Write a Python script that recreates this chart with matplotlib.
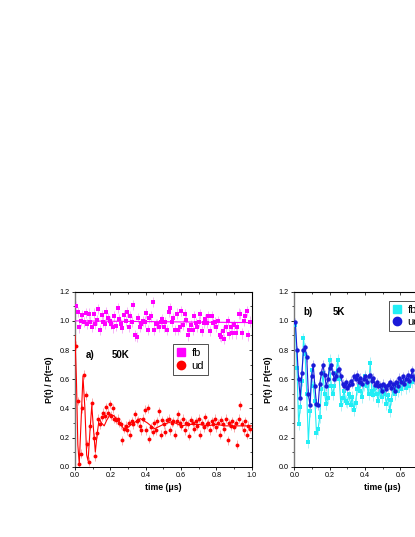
import numpy as np
import matplotlib
matplotlib.use("Agg")
import matplotlib.pyplot as plt
from matplotlib.lines import Line2D
from matplotlib.ticker import MultipleLocator

plt.rcParams['font.family'] = ['Liberation Sans', 'DejaVu Sans']

# ---------------- data: panel a) 50K ----------------
fb_a = [1.10, 1.06, 0.955, 1.00, 1.04, 0.99, 1.055, 0.98, 1.05, 0.995,
        0.96, 1.05, 0.98, 1.006, 1.08, 0.94, 1.04, 0.995, 0.98, 1.06,
        1.02, 1.00, 0.98, 0.955, 1.03, 0.965, 1.09, 1.01, 0.98, 0.95,
        1.04, 1.00, 1.06, 0.96, 1.03, 0.995, 1.11, 0.90, 0.89, 1.02,
        0.96, 0.98, 1.00, 0.995, 1.055, 0.94, 1.02, 1.03, 1.13, 0.94,
        0.98, 0.98, 0.96, 0.995, 1.01, 0.96, 0.99, 0.94, 1.06, 1.085,
        0.995, 1.02, 0.94, 1.05, 0.94, 0.96, 1.07, 0.97, 1.045, 1.006,
        0.90, 0.94, 0.97, 0.94, 1.03, 0.985, 0.96, 0.995, 1.045, 0.93,
        0.985, 1.01, 0.985, 1.03, 0.93, 1.03, 0.985, 0.99, 0.96, 1.00,
        0.90, 0.89, 0.93, 0.875, 0.96, 1.00, 0.91, 0.96, 0.914, 0.97,
        0.914, 0.955, 1.05, 1.045, 0.914, 1.00, 1.03, 1.07, 0.90, 0.995]
ud_a = [0.83, 0.45, 0.02, 0.09, 0.40, 0.63, 0.49, 0.155, 0.035, 0.28,
        0.44, 0.20, 0.07, 0.23, 0.33, 0.29, 0.34, 0.37, 0.35, 0.41,
        0.37, 0.43, 0.35, 0.40, 0.33, 0.32, 0.33, 0.30, 0.29, 0.18,
        0.26, 0.28, 0.25, 0.30, 0.22, 0.31, 0.29, 0.36, 0.31, 0.32,
        0.28, 0.25, 0.33, 0.39, 0.25, 0.40, 0.19, 0.27, 0.24, 0.30,
        0.25, 0.31, 0.38, 0.22, 0.32, 0.29, 0.24, 0.32, 0.33, 0.25,
        0.30, 0.31, 0.22, 0.31, 0.36, 0.30, 0.28, 0.33, 0.25, 0.30,
        0.29, 0.21, 0.32, 0.30, 0.26, 0.31, 0.28, 0.33, 0.22, 0.30,
        0.27, 0.34, 0.29, 0.30, 0.25, 0.31, 0.29, 0.33, 0.27, 0.30,
        0.22, 0.32, 0.29, 0.26, 0.33, 0.18, 0.30, 0.28, 0.31, 0.27,
        0.30, 0.15, 0.33, 0.42, 0.29, 0.25, 0.31, 0.22, 0.28, 0.26]
t_a = np.linspace(0.006, 0.99, len(ud_a))
err_fb_a = 0.035
err_ud_a = 0.03

fit_fb_t = [0.0, 1.0]
fit_fb_v = [1.0, 0.988]
fit_ud_t = [0.0, 0.008, 0.016, 0.024, 0.034, 0.045, 0.056, 0.066, 0.074, 0.085,
            0.095, 0.105, 0.115, 0.125, 0.137, 0.15, 0.165, 0.18, 0.2, 0.22,
            0.25, 0.28, 0.32, 0.37, 0.41, 0.45, 0.5, 0.55, 0.6, 0.65,
            0.7, 0.75, 0.8, 0.85, 0.9, 0.95, 1.0]
fit_ud_v = [0.90, 0.60, 0.15, 0.02, 0.30, 0.62, 0.40, 0.08, 0.04, 0.25,
            0.42, 0.25, 0.10, 0.22, 0.33, 0.30, 0.28, 0.32, 0.36, 0.35,
            0.31, 0.25, 0.29, 0.33, 0.30, 0.26, 0.29, 0.31, 0.28, 0.29,
            0.29, 0.28, 0.29, 0.28, 0.28, 0.28, 0.28]

# ---------------- data: panel b) 5K ----------------
ud_b = [0.99, 0.80, 0.60, 0.47, 0.64, 0.80, 0.82, 0.75, 0.50, 0.42,
        0.62, 0.70, 0.55, 0.43, 0.42, 0.57, 0.64, 0.70, 0.63, 0.55,
        0.60, 0.68, 0.70, 0.64, 0.60, 0.62, 0.66, 0.67, 0.62, 0.57,
        0.55, 0.58, 0.54, 0.56, 0.59, 0.57, 0.62, 0.60, 0.63, 0.58,
        0.61, 0.57, 0.60, 0.62, 0.58, 0.62, 0.63, 0.59, 0.61, 0.56,
        0.58, 0.55, 0.56, 0.52, 0.57, 0.55, 0.53, 0.56, 0.58, 0.54,
        0.57, 0.52, 0.58, 0.55, 0.61, 0.58, 0.62, 0.57, 0.60, 0.63,
        0.59, 0.62, 0.66, 0.60, 0.63]
fb_b = [0.97, 0.68, 0.29, 0.41, 0.59, 0.88, 0.77, 0.50, 0.17, 0.38,
        0.66, 0.55, 0.45, 0.23, 0.26, 0.34, 0.53, 0.64, 0.50, 0.43,
        0.47, 0.73, 0.55, 0.50, 0.55, 0.64, 0.73, 0.60, 0.42, 0.47,
        0.52, 0.45, 0.44, 0.50, 0.42, 0.48, 0.39, 0.44, 0.53, 0.55,
        0.52, 0.48, 0.56, 0.62, 0.55, 0.50, 0.71, 0.52, 0.49, 0.54,
        0.50, 0.45, 0.52, 0.48, 0.55, 0.50, 0.43, 0.49, 0.38, 0.46,
        0.53, 0.50, 0.55, 0.52, 0.57, 0.53, 0.56, 0.58, 0.54, 0.57,
        0.55, 0.60, 0.58, 0.61, 0.59]
t_b = np.linspace(0.006, 0.687, len(ud_b))
err_fb_b = 0.04
err_ud_b = 0.03

xticks = [0.0, 0.2, 0.4, 0.6, 0.8, 1.0]
yticks = [0.0, 0.2, 0.4, 0.6, 0.8, 1.0, 1.2]

# ---------------- figure ----------------
fig = plt.figure(figsize=(4.15, 5.37), dpi=100)
axw = 176.7 / 415
axh = 175 / 537
ax1 = fig.add_axes([75 / 415, (537 - 466.7) / 537, axw, axh])
ax2 = fig.add_axes([294.3 / 415, (537 - 466.7) / 537, axw, axh])


def style_axes(ax):
    ax.set_xlim(0, 1.0)
    ax.set_ylim(0, 1.2)
    ax.set_xticks(xticks)
    ax.set_yticks(yticks)
    ax.set_xticklabels([f"{v:.1f}" for v in xticks])
    ax.set_yticklabels([f"{v:.1f}" for v in yticks])
    ax.xaxis.set_minor_locator(MultipleLocator(0.1))
    ax.yaxis.set_minor_locator(MultipleLocator(0.1))
    ax.tick_params(which='major', direction='out', length=2.5, width=0.6,
                   labelsize=5.2, pad=1.5)
    ax.tick_params(which='minor', direction='out', length=1.5, width=0.5)
    for s in ax.spines.values():
        s.set_linewidth(0.7)
    ax.spines['left'].set_color('#777777')
    ax.spines['left'].set_linewidth(1.0)
    top = ax.secondary_xaxis('top')
    top.set_xticks(xticks)
    top.xaxis.set_minor_locator(MultipleLocator(0.1))
    top.tick_params(which='both', direction='in', labeltop=False, width=0.5)
    top.tick_params(which='major', length=2.5)
    top.tick_params(which='minor', length=1.5)
    right = ax.secondary_yaxis('right')
    right.set_yticks(yticks)
    right.yaxis.set_minor_locator(MultipleLocator(0.1))
    right.tick_params(which='both', direction='in', labelright=False, width=0.5)
    right.tick_params(which='major', length=2.5)
    right.tick_params(which='minor', length=1.5)
    ax.set_xlabel('time (\u03bcs)', fontsize=6.3, fontweight='bold', labelpad=3)
    ax.set_ylabel('P(t) / P(t=0)', fontsize=6.3, fontweight='bold', labelpad=4)


# panel a)
ax1.errorbar(t_a, fb_a, yerr=err_fb_a, fmt='s', color='#FF00FF', ms=2.3, mew=0,
             ecolor='#F5A8F5', elinewidth=0.6, capsize=1.0, capthick=0.5, zorder=3)
ax1.plot(fit_fb_t, fit_fb_v, color='#FF00FF', lw=0.8, zorder=4)
ax1.errorbar(t_a, ud_a, yerr=err_ud_a, fmt='o', color='#FF0000', ms=2.8, mew=0,
             ecolor='#F5A0A0', elinewidth=0.6, capsize=1.0, capthick=0.5, zorder=3)
ax1.plot(fit_ud_t, fit_ud_v, color='#FF0000', lw=0.8, zorder=4)
style_axes(ax1)
ax1.text(0.062, 0.765, 'a)', fontsize=7, fontweight='bold', va='center')
ax1.text(0.21, 0.765, '50K', fontsize=7, fontweight='bold', va='center')
h1 = [Line2D([], [], marker='s', color='#FF00FF', ls='none', ms=5.5),
      Line2D([], [], marker='o', color='#FF0000', ls='none', ms=6)]
leg1 = ax1.legend(h1, ['fb', 'ud'], loc='upper left', bbox_to_anchor=(0.555, 0.70),
                  frameon=True, fancybox=False, fontsize=8, handlelength=0.8,
                  handletextpad=0.5, borderpad=0.35, labelspacing=0.25,
                  borderaxespad=0)
leg1.get_frame().set_edgecolor('black')
leg1.get_frame().set_linewidth(0.6)

# panel b)
ax2.errorbar(t_b, fb_b, yerr=err_fb_b, fmt='s-', color='#22EEF5', ms=2.6, mew=0, lw=0.8,
             ecolor='#A0EEF5', elinewidth=0.6, capsize=1.0, capthick=0.5, zorder=3)
ax2.errorbar(t_b, ud_b, yerr=err_ud_b, fmt='o-', color='#1A1AD8', ms=3.2, mew=0, lw=0.8,
             ecolor='#A8A8F0', elinewidth=0.6, capsize=1.0, capthick=0.5, zorder=4)
style_axes(ax2)
ax2.text(0.05, 1.06, 'b)', fontsize=7, fontweight='bold', va='center')
ax2.text(0.22, 1.06, '5K', fontsize=7, fontweight='bold', va='center')
h2 = [Line2D([], [], marker='s', color='#22EEF5', ls='none', ms=5.5),
      Line2D([], [], marker='o', color='#1A1AD8', ls='none', ms=6)]
leg2 = ax2.legend(h2, ['fb', 'ud'], loc='upper left', bbox_to_anchor=(0.536, 0.949),
                  frameon=True, fancybox=False, fontsize=8, handlelength=0.8,
                  handletextpad=0.5, borderpad=0.35, labelspacing=0.25,
                  borderaxespad=0)
leg2.get_frame().set_edgecolor('black')
leg2.get_frame().set_linewidth(0.6)

fig.savefig('out.png', dpi=100)
